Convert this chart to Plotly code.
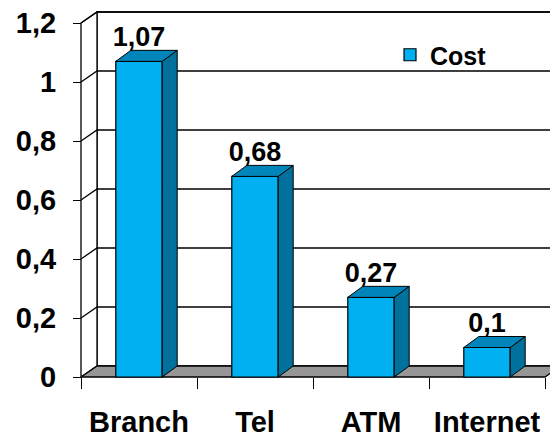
import plotly.graph_objects as go

categories = ["Branch", "Tel", "ATM", "Internet"]
cost = [1.07, 0.68, 0.27, 0.1]
y_ticks = [0, 0.2, 0.4, 0.6, 0.8, 1.0, 1.2]
series_name = "Cost"

W, H = 550, 439
# pixel geometry of the front plane
px_left, px_right = 81, 545
py_zero = 377
px_per_x = (px_right - px_left) / len(categories)
px_per_y = 295.0

x_range = [-0.5 - px_left / px_per_x, -0.5 + (W - px_left) / px_per_x]
y_range = [-(H - py_zero) / px_per_y, py_zero / px_per_y]

dxw, dyw = 16 / px_per_x, 11 / px_per_y   # wall depth
dxb, dyb = 15 / px_per_x, 11 / px_per_y   # bar depth
bw = 0.4
xl, xr = -0.5, len(categories) - 0.5
ymax = y_ticks[-1]

FRONT = "#00B0F0"
TOP = "#0085BA"
SIDE = "#00709C"
FLOOR = "#969696"
FONT = "Liberation Sans, Arial, sans-serif"

def poly(pts):
    return "M" + "L".join(f"{x},{y}" for x, y in pts) + "Z"

shapes = []
# back wall
shapes.append(dict(type="path", xref="x", yref="y", layer="below",
                   path=poly([(xl + dxw, dyw), (xr + dxw + 1, dyw), (xr + dxw + 1, ymax + dyw), (xl + dxw, ymax + dyw)]),
                   fillcolor="white", line=dict(color="black", width=1.3)))
# side wall
shapes.append(dict(type="path", xref="x", yref="y", layer="below",
                   path=poly([(xl, 0), (xl, ymax), (xl + dxw, ymax + dyw), (xl + dxw, dyw)]),
                   fillcolor="white", line=dict(color="black", width=1.3)))
# gridlines
for v in y_ticks[1:]:
    shapes.append(dict(type="path", xref="x", yref="y", layer="below",
                       path=f"M{xl},{v}L{xl + dxw},{v + dyw}L{xr + dxw + 1},{v + dyw}",
                       line=dict(color="black", width=1.3)))
# floor
shapes.append(dict(type="path", xref="x", yref="y", layer="below",
                   path=poly([(xl, 0), (xr, 0), (xr + dxw, dyw), (xl + dxw, dyw)]),
                   fillcolor=FLOOR, line=dict(color="black", width=1.3)))

fig = go.Figure()

fig.add_trace(go.Bar(x=list(range(len(categories))), y=cost, width=bw, name=series_name,
                     marker=dict(color=FRONT, line=dict(color="black", width=1.2)),
                     showlegend=True, hoverinfo="skip"))

side_x, side_y, top_x, top_y = [], [], [], []
for i, v in enumerate(cost):
    x0, x1 = i - bw / 2, i + bw / 2
    side_x += [x1, x1, x1 + dxb, x1 + dxb, x1, None]
    side_y += [0, v, v + dyb, dyb, 0, None]
    top_x += [x0, x1, x1 + dxb, x0 + dxb, x0, None]
    top_y += [v, v, v + dyb, v + dyb, v, None]

fig.add_trace(go.Scatter(x=side_x, y=side_y, mode="lines", fill="toself", fillcolor=SIDE,
                         line=dict(color="black", width=1), showlegend=False, hoverinfo="skip"))
fig.add_trace(go.Scatter(x=top_x, y=top_y, mode="lines", fill="toself", fillcolor=TOP,
                         line=dict(color="black", width=1), showlegend=False, hoverinfo="skip"))

labels = [f"{v:g}".replace(".", ",") for v in cost]
fig.add_trace(go.Scatter(x=list(range(len(categories))), y=[v + 9 / px_per_y for v in cost], mode="text",
                         text=labels, textposition="top center",
                         textfont=dict(family=FONT, size=27, color="black", weight="bold"),
                         showlegend=False, hoverinfo="skip", cliponaxis=False))

fig.update_layout(
    width=W, height=H,
    margin=dict(l=0, r=0, t=0, b=0),
    paper_bgcolor="white", plot_bgcolor="rgba(0,0,0,0)",
    separators=", ",
    shapes=shapes,
    showlegend=True,
    legend=dict(x=390 / W, y=(H - 55) / H, xanchor="left", yanchor="middle",
                bgcolor="rgba(0,0,0,0)",
                font=dict(family=FONT, size=25, color="black", weight="bold")),
    xaxis=dict(range=x_range, anchor="free", position=(H - py_zero) / H,
               showgrid=False, zeroline=False, showline=False,
               tickvals=list(range(len(categories))), ticktext=categories, ticks="",
               tickfont=dict(family=FONT, size=29, color="black", weight="bold"),
               ticklabelstandoff=25,
               minor=dict(tickvals=[i - 0.5 for i in range(len(categories) + 1)], ticks="outside",
                          ticklen=11, tickwidth=1.3, tickcolor="black", showgrid=False)),
    yaxis=dict(range=y_range, anchor="free", position=px_left / W,
               showgrid=False, zeroline=False, showline=False,
               tickvals=y_ticks, ticks="outside", ticklen=8, tickwidth=1.3, tickcolor="black",
               tickfont=dict(family=FONT, size=29, color="black", weight="bold"),
               ticklabelstandoff=11),
)

fig.write_html("out.html")
